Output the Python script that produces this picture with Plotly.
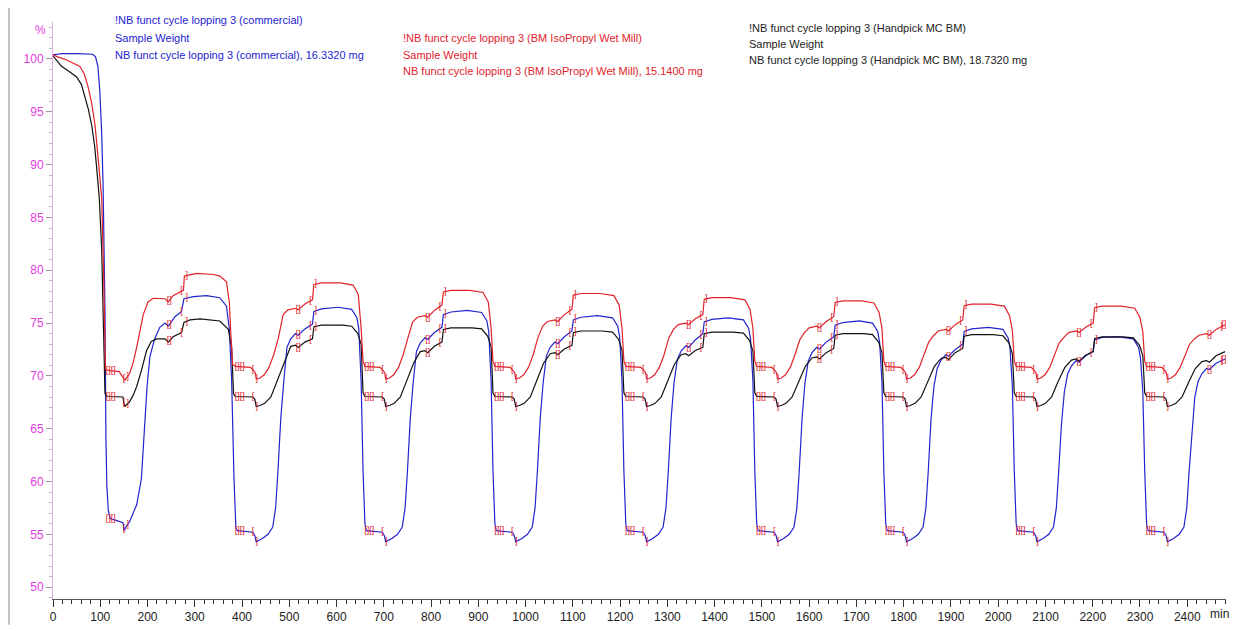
import numpy as np
import plotly.graph_objects as go

# ---------------- data ----------------
red_time = [
    0, 10, 29, 45, 57, 66, 74, 82, 89, 97, 103, 107, 109, 111,
    120, 140, 146, 152, 162, 170, 177, 185, 191, 201, 212, 237, 244, 254, 264, 276, 278, 304, 340, 353, 367, 373, 376, 380,
    386, 418, 423, 428, 430, 438, 447, 457, 467, 477, 487, 497, 513, 519, 533, 549, 552, 568, 608, 635, 646, 652, 656,
    660, 692, 697, 702, 704, 712, 721, 731, 741, 751, 761, 771, 787, 793, 807, 823, 826, 842, 882, 910, 921, 927, 931,
    935, 967, 972, 977, 979, 987, 996, 1006, 1016, 1026, 1036, 1046, 1062, 1068, 1082, 1098, 1101, 1117, 1157, 1187, 1198, 1204, 1208,
    1212, 1244, 1249, 1254, 1256, 1264, 1273, 1283, 1293, 1303, 1313, 1323, 1339, 1345, 1359, 1375, 1378, 1394, 1434, 1464, 1475, 1481, 1485,
    1489, 1521, 1526, 1531, 1533, 1541, 1550, 1560, 1570, 1580, 1590, 1600, 1616, 1622, 1636, 1652, 1655, 1671, 1711, 1737, 1748, 1754, 1758,
    1762, 1794, 1799, 1804, 1806, 1814, 1823, 1833, 1843, 1853, 1863, 1873, 1889, 1895, 1909, 1925, 1928, 1944, 1984, 2013, 2024, 2030, 2034,
    2038, 2070, 2075, 2080, 2082, 2090, 2099, 2109, 2119, 2129, 2139, 2149, 2165, 2171, 2185, 2201, 2204, 2220, 2260, 2289, 2300, 2306, 2310,
    2314, 2346, 2351, 2356, 2358, 2366, 2375, 2385, 2395, 2405, 2415, 2425, 2441, 2447, 2461, 2480,
]
red_pct = [
    100.4, 100.2, 99.9, 99.6, 99.3, 98.6, 97.4, 95.8, 93.7, 89.9, 86.8, 80.0, 73.0, 70.6,
    70.5, 70.4, 70.0, 69.6, 70.2, 71.3, 72.7, 74.4, 75.8, 77.0, 77.35, 77.3, 77.0, 77.6, 77.85, 78.1, 79.45, 79.7, 79.6, 79.45, 78.9, 77.0, 74.2, 71.1,
    70.9, 70.8, 70.6, 70.3, 69.7, 69.8, 70.1, 70.8, 72.0, 73.6, 75.8, 76.25, 76.4, 76.25, 76.8, 77.2, 78.65, 78.8, 78.8, 78.6, 77.7, 74.5, 71.4,
    70.9, 70.8, 70.6, 70.3, 69.7, 69.8, 70.1, 70.8, 72.0, 73.6, 75.1, 75.55, 75.7, 75.55, 76.2, 76.7, 77.95, 78.1, 78.1, 77.9, 77.0, 74.5, 71.4,
    70.9, 70.8, 70.6, 70.3, 69.7, 69.8, 70.1, 70.8, 72.0, 73.6, 74.7, 75.15, 75.3, 75.15, 75.8, 76.3, 77.65, 77.8, 77.8, 77.6, 76.7, 74.5, 71.4,
    70.9, 70.8, 70.6, 70.3, 69.7, 69.8, 70.1, 70.8, 72.0, 73.6, 74.4, 74.85, 75.0, 74.85, 75.4, 75.8, 77.25, 77.4, 77.4, 77.2, 76.3, 74.5, 71.4,
    70.9, 70.8, 70.6, 70.3, 69.7, 69.8, 70.1, 70.8, 72.0, 73.4, 74.1, 74.55, 74.7, 74.55, 75.15, 75.6, 76.95, 77.1, 77.1, 76.9, 76.0, 74.5, 71.4,
    70.9, 70.8, 70.6, 70.3, 69.7, 69.8, 70.1, 70.8, 72.0, 73.2, 73.8, 74.25, 74.4, 74.25, 74.85, 75.3, 76.65, 76.8, 76.8, 76.6, 75.7, 74.3, 71.4,
    70.9, 70.8, 70.6, 70.3, 69.7, 69.8, 70.1, 70.8, 72.0, 73.1, 73.65, 74.1, 74.25, 74.1, 74.6, 75.0, 76.45, 76.6, 76.6, 76.4, 75.5, 74.2, 71.4,
    70.9, 70.8, 70.6, 70.3, 69.7, 69.8, 70.1, 70.8, 72.0, 73.0, 73.5, 73.85, 74.0, 73.85, 74.4, 74.85,
]

blue_time = [
    0, 20, 50, 84, 90, 95, 99, 103, 106, 108, 110, 112, 114, 117, 121,
    135, 148, 151, 153, 162, 177, 187, 194, 199, 205, 215, 226, 237, 244, 258, 272, 277, 297, 325, 353, 367, 373, 378, 383, 387,
    390, 423, 427, 430, 443, 455, 465, 471, 476, 482, 488, 495, 503, 513, 519, 533, 549, 552, 568, 603, 632, 643, 647, 652, 656, 660,
    663, 697, 701, 704, 717, 729, 739, 745, 750, 756, 762, 769, 777, 787, 793, 807, 823, 826, 842, 877, 907, 918, 922, 927, 931, 935,
    938, 972, 976, 979, 992, 1004, 1014, 1020, 1025, 1031, 1037, 1044, 1052, 1062, 1068, 1082, 1098, 1101, 1117, 1152, 1184, 1195, 1199, 1204, 1208, 1212,
    1215, 1249, 1253, 1256, 1269, 1281, 1291, 1297, 1302, 1308, 1314, 1321, 1329, 1339, 1345, 1359, 1375, 1378, 1394, 1429, 1461, 1472, 1476, 1481, 1485, 1489,
    1492, 1526, 1530, 1533, 1546, 1558, 1568, 1574, 1579, 1585, 1591, 1598, 1606, 1616, 1622, 1636, 1652, 1655, 1671, 1706, 1734, 1745, 1749, 1754, 1758, 1762,
    1765, 1799, 1803, 1806, 1819, 1831, 1841, 1847, 1852, 1858, 1864, 1871, 1879, 1889, 1895, 1909, 1925, 1928, 1944, 1979, 2010, 2021, 2025, 2030, 2034, 2038,
    2041, 2075, 2079, 2082, 2095, 2107, 2117, 2123, 2128, 2134, 2140, 2147, 2155, 2165, 2171, 2185, 2201, 2204, 2220, 2255, 2286, 2297, 2301, 2306, 2310, 2314,
    2317, 2351, 2355, 2358, 2371, 2383, 2393, 2399, 2404, 2410, 2416, 2423, 2431, 2441, 2447, 2461, 2480,
]
blue_pct = [
    100.4, 100.5, 100.5, 100.45, 100.2, 99.3, 97.0, 93.0, 88.0, 83.0, 76.0, 64.0, 59.5, 57.3, 56.5,
    56.3, 56.1, 55.3, 55.6, 56.2, 57.8, 60.25, 64.9, 69.0, 71.8, 73.5, 74.6, 75.0, 74.7, 75.6, 76.1, 77.3, 77.5, 77.6, 77.4, 76.6, 74.5, 69.6, 60.25, 55.6,
    55.35, 55.2, 54.9, 54.3, 54.6, 55.0, 55.7, 57.5, 61.0, 66.0, 69.3, 72.7, 73.5, 74.0, 73.85, 74.45, 74.9, 76.1, 76.35, 76.5, 76.3, 75.5, 74.5, 69.5, 61.0, 56.0,
    55.35, 55.2, 54.9, 54.3, 54.6, 55.0, 55.7, 57.5, 61.0, 66.0, 69.3, 72.3, 73.1, 73.6, 73.45, 74.1, 74.6, 75.8, 76.05, 76.2, 76.0, 75.2, 74.2, 69.5, 61.0, 56.0,
    55.35, 55.2, 54.9, 54.3, 54.6, 55.0, 55.7, 57.5, 61.0, 66.0, 69.3, 71.9, 72.7, 73.2, 73.05, 73.7, 74.25, 75.3, 75.55, 75.7, 75.5, 74.7, 73.7, 69.5, 61.0, 56.0,
    55.35, 55.2, 54.9, 54.3, 54.6, 55.0, 55.7, 57.5, 61.0, 66.0, 69.3, 71.55, 72.35, 72.85, 72.7, 73.4, 74.0, 75.1, 75.35, 75.5, 75.3, 74.5, 73.5, 69.5, 61.0, 56.0,
    55.35, 55.2, 54.9, 54.3, 54.6, 55.0, 55.7, 57.5, 61.0, 66.0, 69.3, 71.4, 72.2, 72.7, 72.55, 73.2, 73.7, 74.8, 75.05, 75.2, 75.0, 74.2, 73.2, 69.5, 61.0, 56.0,
    55.35, 55.2, 54.9, 54.3, 54.6, 55.0, 55.7, 57.5, 61.0, 66.0, 69.0, 70.7, 71.5, 72.0, 71.85, 72.5, 73.0, 74.2, 74.45, 74.6, 74.4, 73.6, 72.6, 69.0, 61.0, 56.0,
    55.35, 55.2, 54.9, 54.3, 54.6, 55.0, 55.7, 57.5, 61.0, 65.5, 68.5, 70.2, 70.95, 71.45, 71.3, 71.9, 72.3, 73.4, 73.65, 73.7, 73.5, 72.7, 71.7, 68.5, 61.0, 56.0,
    55.35, 55.2, 54.9, 54.3, 54.6, 55.0, 55.7, 57.5, 61.0, 65.0, 68.0, 69.5, 70.2, 70.7, 70.6, 71.2, 71.6,
]

black_time = [
    0, 8, 18, 35, 50, 60, 67, 75, 82, 88, 92, 98, 103, 106, 108, 110,
    115, 148, 150, 152, 162, 170, 177, 187, 198, 208, 219, 237, 244, 254, 272, 277, 290, 311, 353, 371, 378, 382,
    386, 423, 427, 430, 438, 448, 461, 475, 489, 503, 513, 519, 533, 549, 552, 568, 613, 632, 645, 652, 656,
    660, 697, 701, 704, 712, 722, 735, 749, 763, 777, 787, 793, 807, 823, 826, 842, 887, 907, 920, 927, 931,
    935, 972, 976, 979, 987, 997, 1010, 1024, 1038, 1052, 1062, 1068, 1082, 1098, 1101, 1117, 1162, 1184, 1197, 1204, 1208,
    1212, 1249, 1253, 1256, 1264, 1274, 1287, 1301, 1315, 1329, 1339, 1345, 1359, 1375, 1378, 1394, 1439, 1461, 1474, 1481, 1485,
    1489, 1526, 1530, 1533, 1541, 1551, 1564, 1578, 1592, 1606, 1616, 1622, 1636, 1652, 1655, 1671, 1716, 1734, 1747, 1754, 1758,
    1762, 1799, 1803, 1806, 1814, 1824, 1837, 1851, 1865, 1879, 1889, 1895, 1909, 1925, 1928, 1944, 1989, 2010, 2023, 2030, 2034,
    2038, 2075, 2079, 2082, 2090, 2100, 2113, 2127, 2141, 2155, 2165, 2171, 2185, 2201, 2204, 2220, 2265, 2286, 2299, 2306, 2310,
    2314, 2351, 2355, 2358, 2366, 2376, 2389, 2403, 2417, 2431, 2441, 2447, 2461, 2480,
]
black_pct = [
    100.3, 99.9, 99.3, 98.8, 98.3, 97.6, 96.5, 95.2, 93.7, 91.8, 89.9, 86.8, 82.0, 76.0, 70.0, 68.3,
    68.05, 68.0, 67.5, 67.1, 67.55, 68.2, 69.0, 70.5, 72.4, 73.25, 73.5, 73.5, 73.2, 73.7, 74.1, 75.05, 75.3, 75.4, 75.2, 74.4, 72.7, 68.3,
    68.05, 68.0, 67.8, 67.1, 67.2, 67.4, 68.0, 69.6, 71.3, 72.8, 72.9, 72.7, 73.2, 73.5, 74.65, 74.8, 74.8, 74.7, 74.0, 73.0, 68.4,
    68.05, 68.0, 67.8, 67.1, 67.2, 67.4, 68.0, 69.6, 71.2, 72.3, 72.4, 72.2, 72.8, 73.2, 74.4, 74.55, 74.55, 74.45, 73.75, 72.75, 68.4,
    68.05, 68.0, 67.8, 67.1, 67.2, 67.4, 68.0, 69.6, 71.2, 72.1, 72.2, 72.0, 72.55, 72.9, 74.1, 74.25, 74.25, 74.15, 73.45, 72.45, 68.4,
    68.05, 68.0, 67.8, 67.1, 67.2, 67.4, 68.0, 69.6, 71.1, 72.0, 72.1, 71.9, 72.4, 72.7, 74.0, 74.15, 74.15, 74.05, 73.35, 72.35, 68.4,
    68.05, 68.0, 67.8, 67.1, 67.2, 67.4, 68.0, 69.5, 70.9, 71.7, 71.8, 71.6, 72.2, 72.6, 73.85, 74.0, 74.0, 73.9, 73.2, 72.2, 68.4,
    68.05, 68.0, 67.8, 67.1, 67.2, 67.4, 68.0, 69.5, 70.9, 71.65, 71.75, 71.55, 72.2, 72.6, 73.75, 73.9, 73.9, 73.8, 73.1, 72.1, 68.4,
    68.05, 68.0, 67.8, 67.1, 67.2, 67.4, 68.0, 69.5, 70.8, 71.5, 71.6, 71.4, 71.95, 72.3, 73.55, 73.7, 73.7, 73.6, 72.9, 71.9, 68.4,
    68.05, 68.0, 67.8, 67.1, 67.2, 67.4, 68.0, 69.4, 70.7, 71.35, 71.45, 71.3, 71.9, 72.3,
]

# start of each humidity cycle (min) and the evaluation brackets drawn on the curves
cycle_start_min = [110, 383, 657, 932, 1209, 1486, 1759, 2035, 2311]
bracket_offset_min = [12, 40, 48, 136, 162, 173]
bracket_glyph = ["[][]", "[", "]", "[]", "[", "]"]
end_bracket_min = 2478

y_ticks = [50, 55, 60, 65, 70, 75, 80, 85, 90, 95, 100]

series_text = [
    ["!NB funct cycle lopping 3 (commercial)", "Sample Weight",
     "NB funct cycle lopping 3 (commercial), 16.3320 mg"],
    ["!NB funct cycle lopping 3 (BM IsoPropyl Wet Mill)", "Sample Weight",
     "NB funct cycle lopping 3 (BM IsoPropyl Wet Mill), 15.1400 mg"],
    ["!NB funct cycle lopping 3 (Handpick MC BM)", "Sample Weight",
     "NB funct cycle lopping 3 (Handpick MC BM), 18.7320 mg"],
]

assert len(red_time) == len(red_pct)
assert len(blue_time) == len(blue_pct)
assert len(black_time) == len(black_pct)

# ---------------- styling ----------------
BLUE = "#2323cf"
RED = "#e0232b"
BLACK = "#111111"
MAGENTA = "#e040e0"
FONT = "Liberation Sans"

W, H = 1233, 631
L, R, T, B = 53, 7, 22, 26
pw, ph = W - L - R, H - T - B


def px_x(x):
    return (x - L) / pw


def px_y(y):
    return (H - B - y) / ph


fig = go.Figure()
series = [(blue_time, blue_pct, BLUE), (black_time, black_pct, BLACK), (red_time, red_pct, RED)]
for t, v, c in series:
    fig.add_trace(go.Scatter(x=t, y=v, mode="lines", line=dict(color=c, width=1.2),
                             hoverinfo="skip", showlegend=False))

# evaluation brackets (red text glyphs sitting on the curves);
# where two curves coincide the brackets merge into one
mx, my, mt = [], [], []


def add_bracket(tm, g):
    placed = []
    for t, v, c in series:
        yv = float(np.interp(tm, t, v))
        if any(abs(yv - p) < 0.9 for p in placed):
            continue
        placed.append(yv)
        mx.append(tm)
        my.append(yv)
        mt.append(g)


for t0 in cycle_start_min:
    for off, g in zip(bracket_offset_min, bracket_glyph):
        tm = t0 + off
        if tm <= 2480:
            add_bracket(tm, g)
add_bracket(end_bracket_min, "[]")

fig.add_trace(go.Scatter(x=mx, y=my, mode="text", text=mt,
                         textfont=dict(color=RED, size=9, family=FONT),
                         hoverinfo="skip", showlegend=False))

fig.update_layout(
    width=W, height=H,
    margin=dict(l=L, r=R, t=T, b=B),
    plot_bgcolor="white", paper_bgcolor="white",
    showlegend=False,
    font=dict(family=FONT, size=12, color="#222"),
)
fig.update_xaxes(
    range=[0, 2482], tick0=0, dtick=100,
    showgrid=False, zeroline=False,
    showline=True, linecolor="#555", linewidth=1,
    ticks="outside", ticklen=7, tickcolor="#333", tickwidth=1,
    minor=dict(dtick=20, ticks="outside", ticklen=4, tickcolor="#333", showgrid=False),
    tickfont=dict(color="#222", size=12, family=FONT),
)
fig.update_yaxes(
    range=[48.88, 103.5], tickmode="array", tickvals=y_ticks,
    showgrid=False, zeroline=False,
    showline=True, linecolor="#eca6ec", linewidth=1,
    ticks="outside", ticklen=6, tickcolor="#999", tickwidth=1,
    minor=dict(dtick=1, ticks="outside", ticklen=3, tickcolor="#bbb", showgrid=False),
    tickfont=dict(color=MAGENTA, size=12, family=FONT),
)

# text blocks
blocks = [(113, [20, 38, 55], BLUE), (401, [38, 55, 72], RED), (747, [28, 44, 60], "#222")]
for (x0, ys, col), lines in zip(blocks, series_text):
    for yy, txt in zip(ys, lines):
        fig.add_annotation(x=px_x(x0), y=px_y(yy), xref="paper", yref="paper",
                           text=txt, showarrow=False, xanchor="left", yanchor="middle",
                           font=dict(color=col, size=11, family=FONT))

fig.add_annotation(x=px_x(40), y=px_y(30), xref="paper", yref="paper", text="%",
                   showarrow=False, xanchor="center", yanchor="middle",
                   font=dict(color=MAGENTA, size=12, family=FONT))
fig.add_annotation(x=px_x(1219), y=px_y(620), xref="paper", yref="paper", text="min",
                   showarrow=False, xanchor="center", yanchor="middle",
                   font=dict(color="#222", size=12, family=FONT))

# frame line on the left
fig.add_shape(type="line", xref="paper", yref="paper", x0=px_x(9), x1=px_x(9),
              y0=px_y(631), y1=px_y(8), line=dict(color="#888", width=1))

fig.write_html("out.html")
